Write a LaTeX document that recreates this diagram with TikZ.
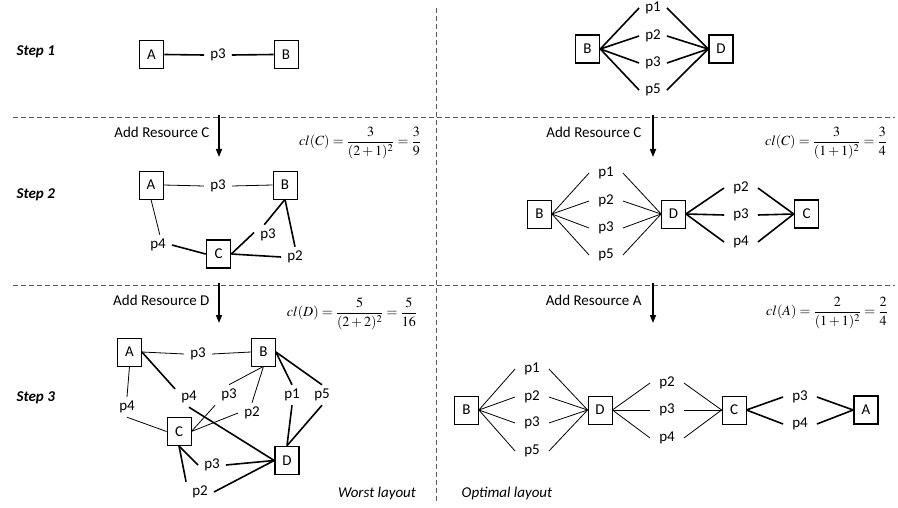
\documentclass[tikz,border=0pt]{standalone}
\usepackage{mathptmx}
\usepackage[no-math]{fontspec}
\setmainfont{Carlito}
\usetikzlibrary{arrows.meta}
\tikzset{
  box/.style={draw, line width=0.8pt, minimum width=24pt, minimum height=28pt, inner sep=0pt},
  tbox/.style={box, line width=1.6pt},
  lbl/.style={inner xsep=6pt, inner ysep=4pt},
  thinln/.style={line width=0.8pt},
  thickln/.style={line width=1.6pt},
  sep/.style={draw=black!65, line width=0.8pt, dash pattern=on 5pt off 3pt},
  addarr/.style={line width=1.6pt, -{Triangle[width=6pt,length=8pt]}},
  steplbl/.style={anchor=west, font=\fontsize{15}{18}\selectfont\bfseries\itshape},
  addlbl/.style={anchor=east},
  formula/.style={font=\fontsize{14}{16}\selectfont},
  laylbl/.style={font=\fontsize{15}{18}\selectfont\itshape}
}
\begin{document}
\begin{tikzpicture}[x=1pt,y=-1pt, font=\fontsize{15}{18}\selectfont]
\useasboundingbox (0,0) rectangle (898,508);
% separators
\draw[sep] (13,117) -- (895,117);
\draw[sep] (13,285) -- (895,285);
\draw[sep] (436,8) -- (436,502);

% step labels
\node[steplbl] (s1) at (13,52) {Step 1};
\node[steplbl] (s2) at (13,195) {Step 2};
\node[steplbl] (s3) at (13,398) {Step 3};

% ===== Step 1 left
\node[tbox] (A1) at (151.5,54.5) {A};
\node[box] (B1) at (286,54.5) {B};
\node[lbl] (p31) at (218,55) {p3};
\draw[thickln] (A1.east) -- (p31.west);
\draw[thickln] (p31.east) -- (B1.west);

% ===== Step 1 right
\node[tbox] (B1r) at (587.5,49) {B};
\node[tbox] (D1r) at (721,49) {D};
\foreach \n/\y in {p1/8, p2/36, p3/63, p5/90} {
  \node[lbl] (r1\n) at (653,\y) {\n};
  \draw[thickln] (B1r.east) -- (r1\n.west);
  \draw[thickln] (r1\n.east) -- (D1r.west);
}

% ===== Step 2 left
\coordinate (a2s) at (219,115);
\coordinate (a2e) at (219,157);
\draw[addarr] (a2s) -- (a2e);
\node[addlbl] (t2l) at (213,132) {Add Resource C};
\node[formula] (f2l) at (360,143) {$\displaystyle cl(C)=\frac{3}{(2+1)^2}=\frac{3}{9}$};
\node[box] (A2) at (151,185) {A};
\node[box] (B2) at (285,185) {B};
\node[tbox] (C2) at (218.5,254) {C};
\node[lbl] (p32) at (218,186) {p3};
\node[lbl] (p42) at (158,245) {p4};
\node[lbl] (p32b) at (268,235) {p3};
\node[lbl] (p22) at (295,257) {p2};
\draw[thinln] (A2.east) -- (p32.west);
\draw[thinln] (p32.east) -- (B2.west);
\draw[thinln] (A2.south) -- (p42.80);
\draw[thickln] (p42.east) -- (C2.west);
\draw[thickln] (C2.east) -- (p32b.170);
\draw[thickln] (p32b.110) -- (B2.south);
\draw[thickln] (C2.east) -- (p22.west);
\draw[thickln] (B2.south) -- (p22.north);

% ===== Step 2 right
\coordinate (a2rs) at (653,115);
\coordinate (a2re) at (653,157);
\draw[addarr] (a2rs) -- (a2re);
\node[addlbl] (t2r) at (645,132) {Add Resource C};
\node[formula] (f2r) at (826,143) {$\displaystyle cl(C)=\frac{3}{(1+1)^2}=\frac{3}{4}$};
\node[box] (B2r) at (539.5,214) {B};
\node[box] (D2r) at (673.5,214) {D};
\node[tbox] (C2r) at (806.5,214) {C};
\foreach \n/\y in {p1/173, p2/201, p3/228, p5/255} {
  \node[lbl, inner xsep=9pt] (r2\n) at (606,\y) {\n};
  \draw[thinln] (B2r.east) -- (r2\n.west);
  \draw[thinln] (r2\n.east) -- (D2r.west);
}
\foreach \n/\y in {p2/188, p3/215, p4/242} {
  \node[lbl, inner xsep=9pt] (r2b\n) at (741,\y) {\n};
  \draw[thickln] (D2r.east) -- (r2b\n.west);
  \draw[thickln] (r2b\n.east) -- (C2r.west);
}

% ===== Step 3 left
\coordinate (a3s) at (219,283);
\coordinate (a3e) at (219,323);
\draw[addarr] (a3s) -- (a3e);
\node[addlbl] (t3l) at (213,300) {Add Resource D};
\node[formula] (f3l) at (352,314) {$\displaystyle cl(D)=\frac{5}{(2+2)^2}=\frac{5}{16}$};
\node[box] (A3) at (129.5,352) {A};
\node[box] (B3) at (263.5,352) {B};
\node[box] (C3) at (179,431.5) {C};
\node[tbox] (D3) at (287,460.5) {D};
\node[lbl] (p3t) at (198,354) {p3};
\node[lbl] (p4a) at (127,407) {p4};
\node[lbl] (p4b) at (189,397) {p4};
\node[lbl] (p3m) at (229,395) {p3};
\node[lbl] (p2m) at (252,413) {p2};
\node[lbl] (p1r) at (292,395) {p1};
\node[lbl] (p5r) at (322,395) {p5};
\node[lbl] (p3l) at (212,465) {p3};
\node[lbl] (p2l) at (200,492) {p2};
\draw[thinln] (A3.east) -- (p3t.west);
\draw[thinln] (p3t.east) -- (B3.west);
\draw[thinln] (A3.south) -- (p4a.north);
\draw[thinln] (p4a.south) -- (C3.west);
\draw[thickln] (A3.east) -- (p4b.150);
\draw[thickln] (p4b.south) -- (D3.west);
\draw[thinln] (C3.east) -- (p3m.south west);
\draw[thinln] (B3.south) -- (p3m.north);
\draw[thinln] (C3.east) -- (p2m.west);
\draw[thinln] (B3.south) -- (p2m.north);
\draw[thickln] (B3.east) -- (p1r.north);
\draw[thickln] (B3.east) -- (p5r.north);
\draw[thickln] (p1r.south) -- (D3.north);
\draw[thickln] (p5r.south) -- (D3.north);
\draw[thickln] (C3.south) -- (p3l.west);
\draw[thickln] (p3l.east) -- (D3.west);
\draw[thickln] (C3.south) -- (p2l.north west);
\draw[thickln] (p2l.east) -- (D3.west);
\node[laylbl] (worst) at (377,493) {Worst layout};

% ===== Step 3 right
\coordinate (a3rs) at (653,283);
\coordinate (a3re) at (653,323);
\draw[addarr] (a3rs) -- (a3re);
\node[addlbl] (t3r) at (645,300) {Add Resource A};
\node[formula] (f3r) at (827,313) {$\displaystyle cl(A)=\frac{2}{(1+1)^2}=\frac{2}{4}$};
\node[box] (B3r) at (466.5,410) {B};
\node[box] (D3r) at (600,410) {D};
\node[box] (C3r) at (734,410) {C};
\node[tbox] (A3r) at (866,410) {A};
\foreach \n/\y in {p1/369, p2/397, p3/423, p5/451} {
  \node[lbl, inner xsep=9pt] (r3\n) at (532,\y) {\n};
  \draw[thinln] (B3r.east) -- (r3\n.west);
  \draw[thinln] (r3\n.east) -- (D3r.west);
}
\foreach \n/\y in {p2/383, p3/410, p4/438} {
  \node[lbl, inner xsep=9pt] (r3b\n) at (667,\y) {\n};
  \draw[thinln] (D3r.east) -- (r3b\n.west);
  \draw[thinln] (r3b\n.east) -- (C3r.west);
}
\foreach \n/\y in {p3/397, p4/424} {
  \node[lbl, inner xsep=9pt] (r3c\n) at (800,\y) {\n};
  \draw[thickln] (C3r.east) -- (r3c\n.west);
  \draw[thickln] (r3c\n.east) -- (A3r.west);
}
\node[laylbl] (opt) at (507,493) {Optimal layout};
\end{tikzpicture}
\end{document}
